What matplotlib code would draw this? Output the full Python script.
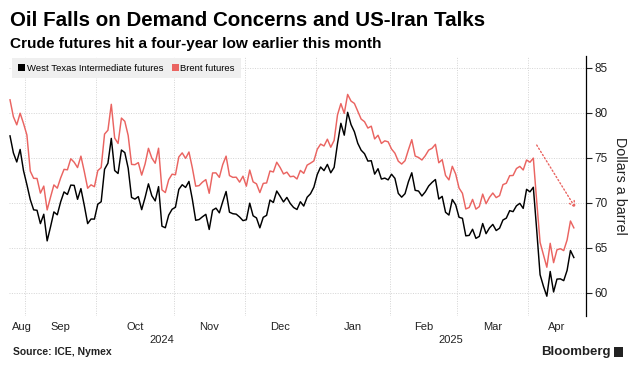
import pandas as pd
import matplotlib.pyplot as plt
from matplotlib.patches import Patch, Rectangle

# fechas de cotizacion (sin 25 dic, 1 ene ni viernes santo)
fechas = pd.bdate_range('2024-08-26', '2025-04-21')
fechas = fechas.drop(pd.to_datetime(['2024-12-25', '2025-01-01', '2025-04-18']))

wti = [77.42, 75.53, 74.52, 75.91, 73.55,
       72.00, 70.34, 69.20, 69.15, 67.67, 68.71, 65.75, 67.31, 68.97, 68.65, 70.09,
       71.19, 70.91, 71.95, 71.92, 70.37, 71.56, 69.69, 67.67, 68.18, 68.17,
       69.83, 70.10, 73.71, 74.38, 77.14, 73.57, 73.24, 75.85, 75.56, 73.83, 70.58,
       70.39, 70.67, 69.22, 70.56, 72.09, 70.77, 70.19, 71.78, 67.38, 67.21, 68.61, 69.26,
       69.49, 71.47, 71.99, 71.69, 72.36, 70.38, 68.04, 68.12, 68.43, 68.70, 67.02,
       69.16, 69.39, 68.87, 70.10, 71.24, 68.94, 68.77, 68.72, 68.40, 68.00,
       68.10, 69.94, 68.54, 68.30, 67.20, 68.37, 68.59, 70.29, 70.02, 71.29, 70.71,
       70.08, 70.58, 69.91, 69.46, 69.24, 70.10, 69.62, 70.60, 70.99, 71.72,
       73.13, 73.96, 73.56, 74.25, 73.32, 73.92, 76.57, 78.82, 77.50, 80.04, 78.68,
       77.88, 76.60, 75.83, 75.44, 74.62, 74.66, 73.17, 73.77, 72.62, 72.73, 72.53,
       73.16, 72.70, 71.03, 70.61, 71.00, 72.32, 73.32, 71.37, 71.29, 70.74, 71.20,
       71.85, 72.25, 72.57, 70.40, 70.70, 68.93, 68.62, 70.35, 69.76,
       68.37, 68.26, 66.31, 66.36, 67.04, 66.03, 66.25, 67.68, 66.55, 67.18, 67.58,
       66.90, 67.16, 68.07, 68.28, 69.11, 69.00, 69.65, 69.92, 69.36, 71.48,
       71.20, 71.71, 66.95, 61.99, 60.70, 59.60, 62.35, 60.07, 61.50, 61.53, 61.33,
       62.47, 64.68, 63.90]

brent = [81.43, 79.55, 78.65, 79.94, 78.80,
         77.52, 73.50, 72.70, 72.69, 71.06, 71.84, 69.19, 70.61, 71.97, 71.61, 72.75,
         73.70, 73.65, 74.88, 74.49, 73.90, 75.17, 73.46, 71.60, 71.98, 71.77,
         73.56, 73.90, 77.62, 78.05, 80.93, 77.18, 76.58, 79.40, 79.04, 77.46, 74.25,
         74.22, 74.45, 73.06, 74.29, 76.04, 74.96, 74.38, 76.05, 71.42, 71.12, 72.55, 73.16,
         73.10, 75.08, 75.53, 74.92, 75.63, 73.87, 71.83, 71.89, 72.28, 72.56, 71.04,
         73.30, 73.31, 72.81, 74.23, 75.17, 73.01, 72.81, 72.83, 72.28, 72.94,
         71.83, 73.62, 72.31, 72.09, 71.12, 72.14, 72.19, 73.52, 73.41, 74.49, 73.91,
         73.19, 73.39, 72.88, 72.94, 72.63, 73.58, 73.26, 74.17, 74.39, 74.64,
         75.93, 76.51, 76.30, 77.05, 76.16, 76.92, 79.76, 81.01, 79.92, 82.03, 81.29,
         81.03, 80.15, 79.29, 79.00, 78.29, 78.50, 77.08, 77.49, 76.58, 76.87, 76.76,
         75.96, 75.50, 74.61, 74.29, 74.66, 75.87, 77.00, 75.18, 75.02, 74.74, 75.22,
         75.84, 76.04, 76.48, 74.43, 74.78, 73.02, 72.53, 74.04, 73.18,
         71.62, 71.04, 69.30, 69.46, 70.36, 69.28, 69.56, 70.95, 69.88, 70.58, 71.07,
         70.56, 70.78, 72.00, 72.16, 73.00, 73.02, 73.79, 74.03, 73.63, 74.74,
         74.49, 74.95, 70.14, 65.58, 64.21, 62.82, 65.48, 63.33, 64.76, 64.88, 64.67,
         65.85, 67.96, 67.20]

meses = ['Aug', 'Sep', 'Oct', 'Nov', 'Dec', 'Jan', 'Feb', 'Mar', 'Apr']
anios = ['2024', '2025']
yticks = [60, 65, 70, 75, 80, 85]

rojo = '#ea6461'
gris = '#d4d4d4'
fuente = 'Liberation Sans'

plt.rcParams['font.family'] = [fuente, 'DejaVu Sans']

x = list(range(len(fechas)))
x0, x1 = -0.3, 170.6

fig = plt.figure(figsize=(6.36, 3.72), dpi=100)
ax = fig.add_axes([9 / 636, 1 - 316 / 372, (586 - 9) / 636, (316 - 56) / 372])

ax.plot(x, brent, color=rojo, lw=1.05, zorder=3)
ax.plot(x, wti, color='black', lw=1.05, zorder=4)

# limites de mes
mes = fechas.to_period('M')
cortes = [i - 0.5 for i in range(1, len(fechas)) if mes[i] != mes[i - 1]]
for c in cortes:
    ax.axvline(c, color=gris, lw=0.7, ls=(0, (1, 1.5)), zorder=1)

bordes = [x0] + cortes + [x1]
centros = [(bordes[k] + bordes[k + 1]) / 2 for k in range(len(bordes) - 1)]
centros[0] = 3.5
ax.set_xticks(centros)
ax.set_xticklabels(meses, fontsize=8, color='#222222')
ax.tick_params(axis='x', length=0, pad=4)

# anios debajo de los meses
corte_anio = cortes[meses.index('Jan') - 1]
for txt, a, b in zip(anios, [x0, corte_anio], [corte_anio, x1]):
    ax.annotate(txt, xy=((a + b) / 2, 0), xycoords=('data', 'axes fraction'),
                xytext=(0, -17.5), textcoords='offset points',
                ha='center', va='center', fontsize=8, color='#222222')

ax.set_xlim(x0, x1)
ax.set_ylim(57.4, 86.3)
ax.set_yticks(yticks)
ax.yaxis.tick_right()
ax.tick_params(axis='y', direction='out', length=4, width=0.8, pad=2,
               labelsize=8.5, colors='#222222')
ax.grid(axis='y', color=gris, lw=0.7, ls=(0, (1, 1.5)), zorder=1)

for s in ['left', 'top', 'bottom']:
    ax.spines[s].set_visible(False)
ax.spines['right'].set_linewidth(0.9)

# flecha punteada
ax.annotate('', xy=(167.5, 69.4), xytext=(156.0, 76.4),
            arrowprops=dict(arrowstyle='->', color=rojo, lw=1, ls=':',
                            shrinkA=0, shrinkB=0))

leg = ax.legend([Patch(facecolor='black'), Patch(facecolor=rojo)],
                ['West Texas Intermediate futures', 'Brent futures'],
                loc='upper left', bbox_to_anchor=(0.005, 0.992), ncol=2,
                fontsize=6.8, frameon=True, fancybox=False, borderaxespad=0,
                handlelength=0.75, handleheight=0.75, handletextpad=0.2,
                columnspacing=0.9, borderpad=0.6)
leg.get_frame().set_facecolor('#efefef')
leg.get_frame().set_edgecolor('none')
leg.get_frame().set_alpha(1)

fig.text(620 / 636, 1 - 186 / 372, 'Dollars a barrel', rotation=270,
         ha='center', va='center', fontsize=10.3, color='#222222')

fig.text(10 / 636, 1 - 20 / 372, 'Oil Falls on Demand Concerns and US-Iran Talks',
         fontsize=14.8, fontweight='bold', va='center', ha='left')
fig.text(10 / 636, 1 - 44 / 372, 'Crude futures hit a four-year low earlier this month',
         fontsize=11.1, fontweight='bold', va='center', ha='left')
fig.text(13 / 636, 1 - 352 / 372, 'Source: ICE, Nymex',
         fontsize=7.5, fontweight='bold', va='center', ha='left', color='#222222')
fig.text(611 / 636, 1 - 352 / 372, 'Bloomberg',
         fontsize=9.5, fontweight='bold', va='center', ha='right', color='#222222')
fig.patches.append(Rectangle((614 / 636, 1 - 357 / 372), 9 / 636, 10 / 372,
                             transform=fig.transFigure, facecolor='#222222'))

plt.savefig('out.png', dpi=100)
